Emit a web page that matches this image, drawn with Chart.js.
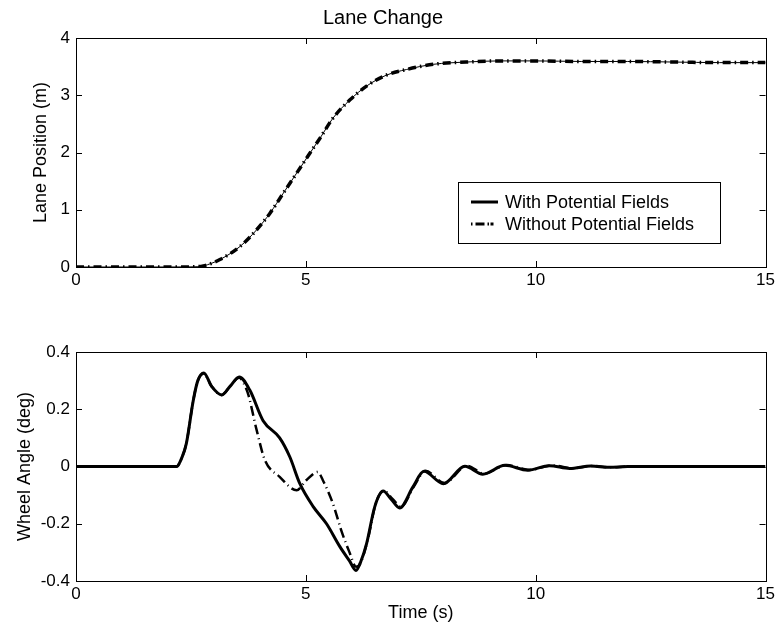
<!DOCTYPE html>
<html lang="en">
<head>
    <meta charset="UTF-8">
    <title>Lane Change</title>
    <script src="https://cdn.jsdelivr.net/npm/chart.js"></script>
    <style>
        body {
            margin: 0;
            background: #fff;
        }
        .wrap {
            position: relative;
            width: 778px;
            height: 624px;
        }
        .wrap canvas {
            position: absolute;
            left: 0;
        }
        #laneChart { top: 0; }
        #wheelChart { top: 300px; }
    </style>
</head>
<body>
    <div class="wrap">
        <canvas id="laneChart" width="778" height="300"></canvas>
        <canvas id="wheelChart" width="778" height="324"></canvas>
    </div>

    <script>
        // lane position (m) over time (s)
        const laneTime = [0, 1, 2, 2.5, 2.77, 3.13, 3.57, 3.93, 4.22, 4.51, 4.8, 5.09, 5.3, 5.59, 5.96, 6.32, 6.75, 7.19, 7.77, 8.49, 9.22, 10, 11, 12, 13, 14, 15];
        const laneWith = [0, 0, 0, 0.002, 0.02, 0.13, 0.36, 0.65, 0.94, 1.29, 1.64, 1.99, 2.24, 2.6, 2.92, 3.16, 3.35, 3.45, 3.54, 3.58, 3.6, 3.6, 3.59, 3.59, 3.58, 3.57, 3.57];
        const laneWithout = [0, 0, 0, 0.002, 0.02, 0.13, 0.36, 0.65, 0.94, 1.29, 1.64, 1.99, 2.24, 2.6, 2.92, 3.16, 3.35, 3.45, 3.54, 3.58, 3.6, 3.6, 3.59, 3.59, 3.58, 3.57, 3.57];

        // wheel angle (deg), with potential fields
        const wheelTimeWith = [0, 1, 2, 2.19, 2.3, 2.4, 2.55, 2.65, 2.78, 2.95, 3.17, 3.35, 3.55, 3.78, 4.07, 4.43, 4.65, 4.87, 5.16, 5.45, 5.74, 5.95, 6.09, 6.2, 6.32, 6.5, 6.68, 6.86, 7.04, 7.33, 7.57, 7.99, 8.46, 8.85, 9.33, 9.83, 10.3, 10.74, 11.2, 11.6, 12, 13, 14, 15];
        const wheelWith = [0, 0, 0, 0, 0.03, 0.08, 0.23, 0.3, 0.327, 0.28, 0.25, 0.28, 0.313, 0.267, 0.16, 0.1, 0.034, -0.06, -0.14, -0.2, -0.28, -0.33, -0.363, -0.33, -0.27, -0.14, -0.086, -0.115, -0.145, -0.071, -0.017, -0.06, 0.001, -0.027, 0.004, -0.013, 0.003, -0.007, 0.002, -0.003, 0, 0, 0, 0];

        // wheel angle (deg), without potential fields
        const wheelTimeWithout = [0, 1, 2, 2.19, 2.3, 2.4, 2.55, 2.65, 2.78, 2.95, 3.17, 3.35, 3.55, 3.65, 3.75, 3.93, 4.11, 4.43, 4.8, 5.01, 5.26, 5.37, 5.59, 5.77, 5.95, 6.09, 6.18, 6.34, 6.52, 6.7, 6.88, 7.07, 7.35, 7.6, 8.02, 8.5, 8.88, 9.37, 9.87, 10.35, 10.8, 11.25, 11.65, 12, 13, 14, 15];
        const wheelWithout = [0, 0, 0, 0, 0.03, 0.08, 0.23, 0.3, 0.325, 0.28, 0.25, 0.28, 0.31, 0.29, 0.25, 0.127, 0.022, -0.036, -0.083, -0.048, -0.019, -0.048, -0.13, -0.223, -0.3, -0.35, -0.34, -0.26, -0.13, -0.085, -0.112, -0.14, -0.07, -0.015, -0.058, 0.003, -0.025, 0.005, -0.012, 0.004, -0.006, 0.002, -0.003, 0, 0, 0, 0];

        const xTicks = [0, 5, 10, 15];
        const laneTicks = [0, 1, 2, 3, 4];
        const wheelTicks = [-0.4, -0.2, 0, 0.2, 0.4];

        const legendLabels = ['With Potential Fields', 'Without Potential Fields'];

        Chart.defaults.font.family = "'Liberation Sans', Arial, Helvetica, sans-serif";
        Chart.defaults.color = '#000';

        function points(xs, ys) {
            return xs.map((x, i) => ({ x: x, y: ys[i] }));
        }

        // matlab style box with inward ticks, plus optional legend
        const boxPlugin = {
            id: 'box',
            afterDraw(chart, args, opts) {
                const ctx = chart.ctx;
                const a = chart.chartArea;
                const xs = chart.scales.x;
                const ys = chart.scales.y;
                ctx.save();
                ctx.strokeStyle = '#000';
                ctx.lineWidth = 1;
                ctx.strokeRect(Math.round(a.left) + 0.5, Math.round(a.top) + 0.5,
                    Math.round(a.right - a.left), Math.round(a.bottom - a.top));
                ctx.beginPath();
                xs.ticks.forEach(t => {
                    const px = Math.round(xs.getPixelForValue(t.value)) + 0.5;
                    ctx.moveTo(px, a.bottom);
                    ctx.lineTo(px, a.bottom - 6);
                    ctx.moveTo(px, a.top);
                    ctx.lineTo(px, a.top + 6);
                });
                ys.ticks.forEach(t => {
                    const py = Math.round(ys.getPixelForValue(t.value)) + 0.5;
                    ctx.moveTo(a.left, py);
                    ctx.lineTo(a.left + 6, py);
                    ctx.moveTo(a.right, py);
                    ctx.lineTo(a.right - 6, py);
                });
                ctx.stroke();

                if (opts.legend) {
                    const bx = 458, by = 182, bw = 262, bh = 61;
                    ctx.fillStyle = '#fff';
                    ctx.fillRect(bx, by, bw, bh);
                    ctx.strokeRect(bx + 0.5, by + 0.5, bw, bh);
                    ctx.font = "18px 'Liberation Sans', Arial, sans-serif";
                    ctx.textBaseline = 'middle';
                    ctx.fillStyle = '#000';
                    const rows = [202, 224];
                    chart.data.datasets.forEach((ds, i) => {
                        ctx.beginPath();
                        ctx.lineWidth = 3;
                        ctx.setLineDash(i === 0 ? [] : [1.5, 3, 9, 3, 1.5]);
                        ctx.moveTo(471, rows[i]);
                        ctx.lineTo(498, rows[i]);
                        ctx.stroke();
                        ctx.setLineDash([]);
                        ctx.fillText(ds.label, 505, rows[i] + 1);
                    });
                }
                ctx.restore();
            }
        };

        function xScale(height, withTitle) {
            return {
                type: 'linear',
                min: 0,
                max: 15,
                afterBuildTicks: s => { s.ticks = xTicks.map(v => ({ value: v })); },
                afterFit: s => { s.height = height; },
                grid: { display: false, drawTicks: false },
                border: { display: false },
                ticks: { font: { size: 17 }, padding: 3, maxRotation: 0 },
                title: {
                    display: withTitle,
                    text: 'Time (s)',
                    font: { size: 18 },
                    padding: { top: 0, bottom: 0 }
                }
            };
        }

        function yScale(min, max, ticks, label, titlePad, fmt) {
            return {
                type: 'linear',
                min: min,
                max: max,
                afterBuildTicks: s => { s.ticks = ticks.map(v => ({ value: v })); },
                afterFit: s => { s.width = 76; },
                grid: { display: false, drawTicks: false },
                border: { display: false },
                ticks: { font: { size: 17 }, padding: 6, callback: fmt },
                title: {
                    display: true,
                    text: label,
                    font: { size: 18 },
                    padding: { top: titlePad, bottom: 0 }
                }
            };
        }

        function createLaneChart() {
            const ctx = document.getElementById('laneChart').getContext('2d');
            new Chart(ctx, {
                type: 'line',
                data: {
                    datasets: [
                        {
                            label: legendLabels[0],
                            data: points(laneTime, laneWith),
                            borderColor: '#000',
                            borderWidth: 1,
                            pointRadius: 0,
                            cubicInterpolationMode: 'monotone',
                            order: 1
                        },
                        {
                            label: legendLabels[1],
                            data: points(laneTime, laneWithout),
                            borderColor: '#000',
                            borderWidth: 3.5,
                            borderDash: [8, 4, 1.5, 4],
                            pointRadius: 0,
                            cubicInterpolationMode: 'monotone',
                            order: 0
                        }
                    ]
                },
                options: {
                    responsive: false,
                    animation: false,
                    layout: { padding: { left: 0, right: 12, top: 0, bottom: 0 } },
                    plugins: {
                        legend: { display: false },
                        tooltip: { enabled: false },
                        title: {
                            display: true,
                            text: 'Lane Change',
                            font: { size: 20, weight: 'normal' },
                            color: '#000',
                            padding: { top: 6, bottom: 8 }
                        },
                        box: { legend: true }
                    },
                    scales: {
                        x: xScale(33, false),
                        y: yScale(0, 4, laneTicks, 'Lane Position (m)', 30, v => String(v))
                    }
                },
                plugins: [boxPlugin]
            });
        }

        function createWheelChart() {
            const ctx = document.getElementById('wheelChart').getContext('2d');
            new Chart(ctx, {
                type: 'line',
                data: {
                    datasets: [
                        {
                            label: legendLabels[0],
                            data: points(wheelTimeWith, wheelWith),
                            borderColor: '#000',
                            borderWidth: 3,
                            pointRadius: 0,
                            cubicInterpolationMode: 'monotone',
                            order: 0
                        },
                        {
                            label: legendLabels[1],
                            data: points(wheelTimeWithout, wheelWithout),
                            borderColor: '#000',
                            borderWidth: 2.5,
                            borderDash: [10, 4, 1, 4],
                            pointRadius: 0,
                            cubicInterpolationMode: 'monotone',
                            order: 1
                        }
                    ]
                },
                options: {
                    responsive: false,
                    animation: false,
                    layout: { padding: { left: 0, right: 12, top: 52, bottom: 0 } },
                    plugins: {
                        legend: { display: false },
                        tooltip: { enabled: false },
                        box: { legend: false }
                    },
                    scales: {
                        x: xScale(43, true),
                        y: yScale(-0.4, 0.4, wheelTicks, 'Wheel Angle (deg)', 14,
                            v => Math.abs(v) < 1e-9 ? '0' : v.toFixed(1))
                    }
                },
                plugins: [boxPlugin]
            });
        }

        createLaneChart();
        createWheelChart();
    </script>
</body>
</html>
